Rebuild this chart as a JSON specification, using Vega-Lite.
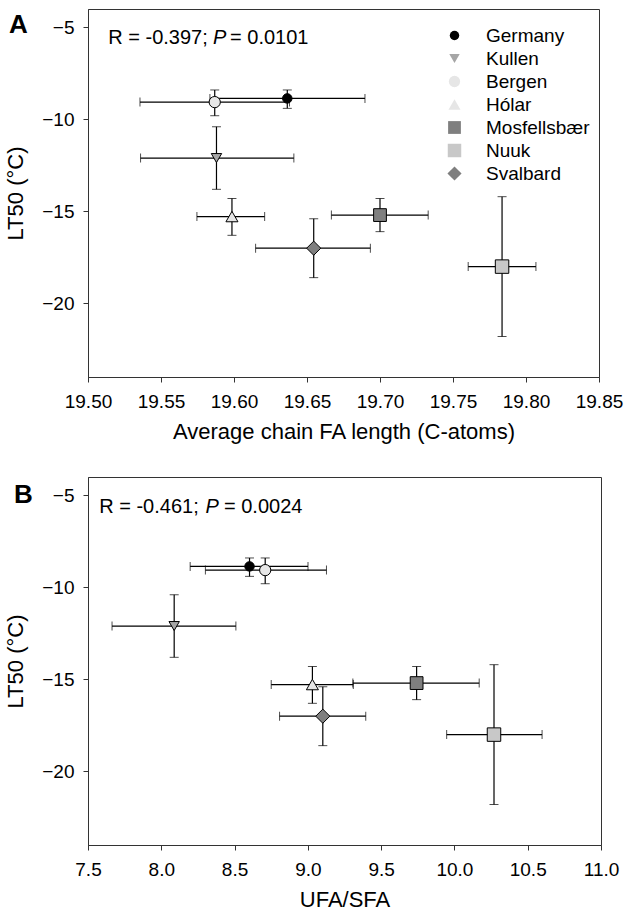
{
  "$schema": "https://vega.github.io/schema/vega-lite/v6.json",
  "padding": {"left": 4, "top": 8, "right": 4, "bottom": 5},
  "background": "white",
  "datasets": {
    "sites": [
      {"site": "Germany", "fa": 19.6365, "fa_lo": 19.5835, "fa_hi": 19.6897, "ufa": 8.602, "ufa_lo": 8.197, "ufa_hi": 9.001, "lt50": -8.86, "lt50_lo": -9.4, "lt50_hi": -8.4},
      {"site": "Kullen", "fa": 19.588, "fa_lo": 19.536, "fa_hi": 19.641, "ufa": 8.088, "ufa_lo": 7.664, "ufa_hi": 8.509, "lt50": -12.1, "lt50_lo": -13.8, "lt50_hi": -10.4},
      {"site": "Bergen", "fa": 19.5868, "fa_lo": 19.5356, "fa_hi": 19.638, "ufa": 8.709, "ufa_lo": 8.301, "ufa_hi": 9.127, "lt50": -9.06, "lt50_lo": -9.8, "lt50_hi": -8.4},
      {"site": "Hólar", "fa": 19.5986, "fa_lo": 19.5746, "fa_hi": 19.621, "ufa": 9.031, "ufa_lo": 8.75, "ufa_hi": 9.31, "lt50": -15.28, "lt50_lo": -16.3, "lt50_hi": -14.3},
      {"site": "Mosfellsbær", "fa": 19.7, "fa_lo": 19.6667, "fa_hi": 19.733, "ufa": 9.742, "ufa_lo": 9.307, "ufa_hi": 10.169, "lt50": -15.2, "lt50_lo": -16.1, "lt50_hi": -14.3},
      {"site": "Nuuk", "fa": 19.7836, "fa_lo": 19.7604, "fa_hi": 19.8068, "ufa": 10.27, "ufa_lo": 9.947, "ufa_hi": 10.598, "lt50": -18.0, "lt50_lo": -21.8, "lt50_hi": -14.2},
      {"site": "Svalbard", "fa": 19.6546, "fa_lo": 19.6148, "fa_hi": 19.6934, "ufa": 9.102, "ufa_lo": 8.807, "ufa_hi": 9.395, "lt50": -17.0, "lt50_lo": -18.6, "lt50_hi": -15.4}
    ],
    "one": [{"note": "annotation"}]
  },
  "config": {
    "font": "Liberation Sans",
    "view": {"stroke": "#333", "strokeWidth": 1},
    "axis": {
      "grid": false,
      "labelFont": "Liberation Sans",
      "titleFont": "Liberation Sans",
      "labelFontSize": 19,
      "titleFontSize": 22,
      "titleFontWeight": "normal",
      "labelColor": "black",
      "titleColor": "black",
      "domainColor": "#333",
      "tickColor": "#333",
      "tickSize": 5,
      "labelFlush": false,
      "labelOverlap": false
    },
    "axisX": {"titlePadding": 10, "labelPadding": 10},
    "axisY": {"titlePadding": 14, "labelPadding": 9}
  },
  "spacing": 33,
  "resolve": {
    "scale": {"x": "independent", "y": "independent", "shape": "independent", "fill": "independent", "size": "independent"},
    "legend": {"shape": "independent", "fill": "independent", "size": "independent"}
  },
  "vconcat": [
    {
      "width": 511,
      "height": 368,
      "layer": [
        {
          "data": {"name": "sites"},
          "mark": {"type": "errorbar", "ticks": {"size": 9, "color": "black", "strokeWidth": 1.2}, "rule": {"color": "black", "strokeWidth": 1.2}},
          "encoding": {
            "x": {"field": "fa_lo", "type": "quantitative", "scale": {"domain": [19.5, 19.85], "nice": false, "zero": false}, "title": "Average chain FA length (C-atoms)", "axis": {"values": [19.5, 19.55, 19.6, 19.65, 19.7, 19.75, 19.8, 19.85], "format": ".2f"}},
            "x2": {"field": "fa_hi"},
            "y": {"field": "lt50", "type": "quantitative", "scale": {"domain": [-24, -4], "nice": false, "zero": false}, "title": "LT50 (°C)", "axis": {"values": [-5, -10, -15, -20]}}
          }
        },
        {
          "data": {"name": "sites"},
          "mark": {"type": "errorbar", "ticks": {"size": 9, "color": "black", "strokeWidth": 1.2}, "rule": {"color": "black", "strokeWidth": 1.2}},
          "encoding": {
            "y": {"field": "lt50_lo", "type": "quantitative", "title": "LT50 (°C)"},
            "y2": {"field": "lt50_hi"},
            "x": {"field": "fa", "type": "quantitative", "title": "Average chain FA length (C-atoms)"}
          }
        },
        {
          "data": {"name": "sites"},
          "mark": {"type": "point", "filled": true, "stroke": "black", "strokeWidth": 1, "opacity": 1},
          "encoding": {
            "x": {"field": "fa", "type": "quantitative", "title": "Average chain FA length (C-atoms)"},
            "y": {"field": "lt50", "type": "quantitative", "title": "LT50 (°C)"},
            "shape": {"field": "site", "type": "nominal", "scale": {"domain": ["Germany", "Kullen", "Bergen", "Hólar", "Mosfellsbær", "Nuuk", "Svalbard"], "range": ["circle", "triangle-down", "circle", "triangle-up", "square", "square", "diamond"]},
              "legend": {"title": null, "orient": "none", "legendX": 357, "legendY": 17, "labelFontSize": 19, "labelColor": "black", "labelFont": "Liberation Sans", "rowPadding": 3, "labelOffset": 22, "symbolStrokeColor": "black", "symbolStrokeWidth": 1, "padding": 0,
                "encode": {"symbols": {"update": {"stroke": {"value": "black"}, "strokeWidth": {"value": 1}, "opacity": {"value": 1}}}}}},
            "fill": {"field": "site", "type": "nominal", "scale": {"domain": ["Germany", "Kullen", "Bergen", "Hólar", "Mosfellsbær", "Nuuk", "Svalbard"], "range": ["#000000", "#a6a6a6", "#e6e6e6", "#e6e6e6", "#7f7f7f", "#c8c8c8", "#7f7f7f"]},
              "legend": {"title": null, "orient": "none", "legendX": 357, "legendY": 17, "labelFontSize": 19, "labelColor": "black", "labelFont": "Liberation Sans", "rowPadding": 3, "labelOffset": 22, "symbolStrokeColor": "black", "symbolStrokeWidth": 1, "padding": 0,
                "encode": {"symbols": {"update": {"stroke": {"value": "black"}, "strokeWidth": {"value": 1}, "opacity": {"value": 1}}}}}},
            "size": {"field": "site", "type": "nominal", "scale": {"domain": ["Germany", "Kullen", "Bergen", "Hólar", "Mosfellsbær", "Nuuk", "Svalbard"], "range": [90, 200, 150, 200, 144, 160, 240]},
              "legend": {"title": null, "orient": "none", "legendX": 357, "legendY": 17, "labelFontSize": 19, "labelColor": "black", "labelFont": "Liberation Sans", "rowPadding": 3, "labelOffset": 22, "symbolStrokeColor": "black", "symbolStrokeWidth": 1, "padding": 0,
                "encode": {"symbols": {"update": {"stroke": {"value": "black"}, "strokeWidth": {"value": 1}, "opacity": {"value": 1}}}}}}
          }
        },
        {
          "data": {"name": "one"},
          "mark": {"type": "text", "align": "left", "baseline": "alphabetic", "fontSize": 26, "fontWeight": "bold", "font": "Liberation Sans", "color": "black"},
          "encoding": {
            "x": {"datum": 19.4459, "type": "quantitative"},
            "y": {"datum": -5.3, "type": "quantitative"},
            "text": {"value": "A"}
          }
        },
        {
          "data": {"name": "one"},
          "mark": {"type": "text", "align": "left", "baseline": "alphabetic", "fontSize": 20, "fontWeight": "normal", "font": "Liberation Sans", "color": "black"},
          "encoding": {
            "x": {"datum": 19.5139, "type": "quantitative"},
            "y": {"datum": -5.88, "type": "quantitative"},
            "text": {"value": "R = -0.397;"}
          }
        },
        {
          "data": {"name": "one"},
          "mark": {"type": "text", "align": "left", "baseline": "alphabetic", "fontSize": 20, "fontWeight": "normal", "fontStyle": "italic", "font": "Liberation Sans", "color": "black"},
          "encoding": {
            "x": {"datum": 19.5856, "type": "quantitative"},
            "y": {"datum": -5.88, "type": "quantitative"},
            "text": {"value": "P"}
          }
        },
        {
          "data": {"name": "one"},
          "mark": {"type": "text", "align": "left", "baseline": "alphabetic", "fontSize": 20, "fontWeight": "normal", "font": "Liberation Sans", "color": "black"},
          "encoding": {
            "x": {"datum": 19.5973, "type": "quantitative"},
            "y": {"datum": -5.88, "type": "quantitative"},
            "text": {"value": "= 0.0101"}
          }
        }
      ]
    },
    {
      "width": 513,
      "height": 368,
      "layer": [
        {
          "data": {"name": "sites"},
          "mark": {"type": "errorbar", "ticks": {"size": 9, "color": "black", "strokeWidth": 1.2}, "rule": {"color": "black", "strokeWidth": 1.2}},
          "encoding": {
            "x": {"field": "ufa_lo", "type": "quantitative", "scale": {"domain": [7.5, 11.0], "nice": false, "zero": false}, "title": "UFA/SFA", "axis": {"values": [7.5, 8, 8.5, 9, 9.5, 10, 10.5, 11], "format": ".1f"}},
            "x2": {"field": "ufa_hi"},
            "y": {"field": "lt50", "type": "quantitative", "scale": {"domain": [-24, -4], "nice": false, "zero": false}, "title": "LT50 (°C)", "axis": {"values": [-5, -10, -15, -20]}}
          }
        },
        {
          "data": {"name": "sites"},
          "mark": {"type": "errorbar", "ticks": {"size": 9, "color": "black", "strokeWidth": 1.2}, "rule": {"color": "black", "strokeWidth": 1.2}},
          "encoding": {
            "y": {"field": "lt50_lo", "type": "quantitative", "title": "LT50 (°C)"},
            "y2": {"field": "lt50_hi"},
            "x": {"field": "ufa", "type": "quantitative", "title": "UFA/SFA"}
          }
        },
        {
          "data": {"name": "sites"},
          "mark": {"type": "point", "filled": true, "stroke": "black", "strokeWidth": 1, "opacity": 1},
          "encoding": {
            "x": {"field": "ufa", "type": "quantitative", "title": "UFA/SFA"},
            "y": {"field": "lt50", "type": "quantitative", "title": "LT50 (°C)"},
            "shape": {"field": "site", "type": "nominal", "scale": {"domain": ["Germany", "Kullen", "Bergen", "Hólar", "Mosfellsbær", "Nuuk", "Svalbard"], "range": ["circle", "triangle-down", "circle", "triangle-up", "square", "square", "diamond"]}, "legend": null},
            "fill": {"field": "site", "type": "nominal", "scale": {"domain": ["Germany", "Kullen", "Bergen", "Hólar", "Mosfellsbær", "Nuuk", "Svalbard"], "range": ["#000000", "#a6a6a6", "#e6e6e6", "#e6e6e6", "#7f7f7f", "#c8c8c8", "#7f7f7f"]}, "legend": null},
            "size": {"field": "site", "type": "nominal", "scale": {"domain": ["Germany", "Kullen", "Bergen", "Hólar", "Mosfellsbær", "Nuuk", "Svalbard"], "range": [90, 200, 150, 200, 144, 160, 240]}, "legend": null}
          }
        },
        {
          "data": {"name": "one"},
          "mark": {"type": "text", "align": "left", "baseline": "alphabetic", "fontSize": 26, "fontWeight": "bold", "font": "Liberation Sans", "color": "black"},
          "encoding": {
            "x": {"datum": 6.995, "type": "quantitative"},
            "y": {"datum": -5.41, "type": "quantitative"},
            "text": {"value": "B"}
          }
        },
        {
          "data": {"name": "one"},
          "mark": {"type": "text", "align": "left", "baseline": "alphabetic", "fontSize": 20, "fontWeight": "normal", "font": "Liberation Sans", "color": "black"},
          "encoding": {
            "x": {"datum": 7.5764, "type": "quantitative"},
            "y": {"datum": -5.94, "type": "quantitative"},
            "text": {"value": "R = -0.461;"}
          }
        },
        {
          "data": {"name": "one"},
          "mark": {"type": "text", "align": "left", "baseline": "alphabetic", "fontSize": 20, "fontWeight": "normal", "fontStyle": "italic", "font": "Liberation Sans", "color": "black"},
          "encoding": {
            "x": {"datum": 8.301, "type": "quantitative"},
            "y": {"datum": -5.94, "type": "quantitative"},
            "text": {"value": "P"}
          }
        },
        {
          "data": {"name": "one"},
          "mark": {"type": "text", "align": "left", "baseline": "alphabetic", "fontSize": 20, "fontWeight": "normal", "font": "Liberation Sans", "color": "black"},
          "encoding": {
            "x": {"datum": 8.4277, "type": "quantitative"},
            "y": {"datum": -5.94, "type": "quantitative"},
            "text": {"value": "= 0.0024"}
          }
        }
      ]
    }
  ]
}
